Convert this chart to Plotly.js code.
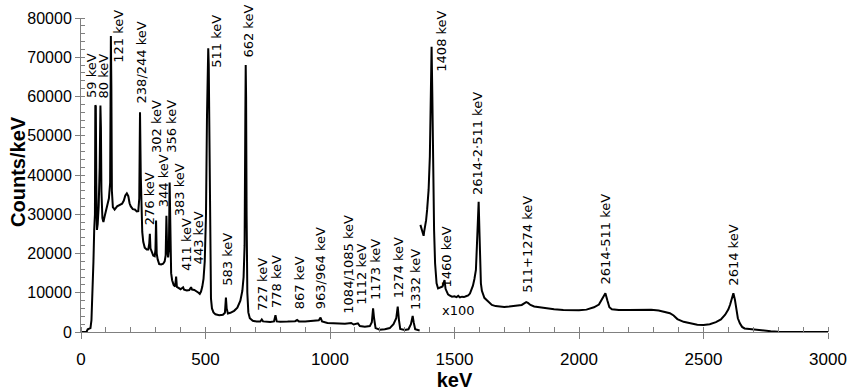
<!DOCTYPE html>
<html>
<head>
<meta charset="utf-8">
<script src="https://cdn.plot.ly/plotly-3.0.1.min.js"></script>
<style>html,body{margin:0;padding:0;background:#fff;}#chart{width:856px;height:391px;}</style>
</head>
<body>
<div id="chart"></div>
<script>
// Main spectrum (0 - ~1360 keV)
const energyLow = [0,22,27,38,42,46,50,53,56,57.5,59.5,61.5,64,67,71,75,78,80,82,86,90,95,101,107,112,117,120,122,124,128,135,145,155,165,172,178,184,190,195,200,208,216,224,230,234,237,240,243,246,250,256,264,270,274,276.5,279,284,290,296,299,301.5,304,308,314,322,330,336,340,343,346,350,353,356,359,362,366,372,378,382,385,392,400,410,414,425,435,442,446,455,465,472,477,482,487,492,497,502,506,509,511,513,516,519,522,526,532,540,555,570,578,582,585,590,600,615,628,640,648,653,657,660,661.5,663,665,668,672,678,690,705,720,726,731,745,760,775,781,786,800,830,860,868,875,900,940,955,962,968,990,1020,1060,1085,1095,1112,1120,1140,1160,1168,1173,1177,1183,1200,1220,1240,1255,1266,1272,1277,1282,1300,1315,1325,1332,1336,1342,1360];
const countsLow = [0,0,700,1000,3000,9000,18000,26000,30000,57800,57500,38000,26000,27500,32000,42000,57700,52000,36000,29000,28000,29500,31000,32500,34000,38000,75400,62000,36000,31800,31200,32000,32300,32700,33500,34800,35300,34600,32800,32000,31300,31200,30700,30800,34000,56000,40000,30000,25500,23000,21500,21000,21000,22500,25000,21300,20300,19500,19300,21000,28400,20000,18500,17300,17200,17400,18000,19500,29600,21000,19000,21000,38100,24000,15000,13200,12000,11600,14100,11500,11200,10900,11400,10800,10600,10700,11400,10800,10700,10400,10000,9700,10300,11500,13500,18000,30000,55000,70000,72300,68000,40000,15000,8500,6000,5000,4500,4300,4400,4900,8800,6000,4700,4900,5400,6200,8000,10500,14000,22000,55000,68000,60000,30000,10000,5000,3500,2850,2650,2650,3200,2700,2550,2550,2700,4300,2700,2600,2650,2750,3050,2700,2700,2800,3000,3650,2700,2300,2200,2100,2300,1900,2200,1500,1350,1500,2500,6000,3500,1000,600,700,1000,2000,3500,6450,3000,800,500,700,2000,4100,2500,700,400];

// High-energy part, shown x100 (~1360 - 3000 keV)
const energyHigh = [1363,1367,1372,1376,1378,1382,1386,1390,1396,1401,1405,1408,1411,1414,1418,1422,1428,1434,1440,1446,1452,1456,1460,1464,1468,1474,1480,1490,1500,1508,1515,1522,1530,1538,1546,1555,1562,1568,1574,1580,1586,1590,1593,1597,1600,1603,1606,1610,1614,1620,1630,1640,1650,1665,1680,1700,1720,1740,1760,1770,1780,1788,1795,1805,1820,1840,1870,1900,1937,1970,2000,2030,2060,2080,2095,2106,2114,2122,2132,2160,2200,2250,2290,2320,2345,2365,2380,2395,2420,2450,2475,2500,2525,2550,2570,2587,2600,2607,2614,2620,2626,2631,2638,2646,2655,2665,2690,2710,2740,2770,2800,2850,3000];
const countsHigh = [27300,26500,25800,24500,25500,26800,28500,31100,36200,44700,60000,72700,60000,43000,26000,17500,12400,11100,11300,11500,11600,12500,13250,11000,10300,9600,9300,9000,9100,8900,9200,8800,9000,8900,9100,9300,9800,10700,11800,13500,15800,22000,27000,33200,26000,14000,12400,10500,9800,8700,8100,7600,6900,6600,6450,6400,6500,6600,6700,6900,7300,7600,7400,6900,6500,6300,6050,5800,5600,5500,5550,5700,6300,7000,8500,9900,8000,6300,5800,5600,5600,5700,5650,5500,5100,4800,4200,3300,2600,2100,1850,1800,2000,2500,3200,4400,5800,7000,8600,9860,8300,6000,3500,2200,1300,900,700,600,350,200,80,30,0];

// Peak labels
const labelText = ["59 keV","80 keV","121 keV","238/244 keV","276 keV","302 keV","344 keV","356 keV","383 keV","411 keV","443 keV","511 keV","583 keV","662 keV","727 keV","778 keV","867 keV","963/964 keV","1084/1085 keV","1112 keV","1173 keV","1274 keV","1332 keV","1408 keV","1460 keV","2614-2·511 keV","511+1274 keV","2614-511 keV","2614 keV"];
const labelE = [42,92,149,243,276,303,332,363,396,423,470,544,587,671,731,785,876,962,1073,1127,1180,1276,1341,1450,1466,1595,1792,2108,2622];
const labelC = [59100,59100,68000,57600,26750,45100,31300,45100,29000,15000,16600,66800,11200,69300,4760,5600,5170,5170,4080,6450,7720,8150,5170,65700,10700,34300,9430,11700,11400];
const scaleNote = "x100";
const scaleNoteE = 1518, scaleNoteC = 5430;

const xTitle = "keV";
const yTitle = "Counts/keV";
const xTicks = [0,500,1000,1500,2000,2500,3000];
const yTicks = [0,10000,20000,30000,40000,50000,60000,70000,80000];

const lineStyle = {color:'#000', width:2};
const traces = [
  {x: energyLow, y: countsLow, type:'scatter', mode:'lines', line: lineStyle, hoverinfo:'skip'},
  {x: energyHigh, y: countsHigh, type:'scatter', mode:'lines', line: lineStyle, hoverinfo:'skip'}
];

const labelFont = {family:'DejaVu Sans', size:13, color:'#000'};
const annotations = labelText.map((t,i)=>({
  x: labelE[i], y: labelC[i], xref:'x', yref:'y', text: t, textangle: -90,
  showarrow:false, xanchor:'center', yanchor:'bottom', font: labelFont
}));
annotations.push({x: scaleNoteE, y: scaleNoteC, xref:'x', yref:'y', text: scaleNote,
  showarrow:false, xanchor:'center', yanchor:'middle', font: labelFont});
// y-axis title placed as a rotated annotation
annotations.push({x: -0.0843, y: 0.51, xref:'paper', yref:'paper', text: yTitle, textangle:-90,
  showarrow:false, xanchor:'center', yanchor:'middle',
  font:{family:'Liberation Sans, Arial', size:20, color:'#000', weight:'bold'}});

const layout = {
  width:856, height:391,
  margin:{l:81, r:28, t:18, b:59},
  paper_bgcolor:'#fff', plot_bgcolor:'#fff',
  showlegend:false,
  xaxis:{
    range:[0,3000], tickvals:xTicks, ticktext:xTicks.map(String),
    showgrid:false, zeroline:false, showline:true, linecolor:'#808080', linewidth:1,
    ticks:'outside', ticklen:6, tickcolor:'#808080', tickwidth:1,
    minor:{dtick:100, ticks:'inside', ticklen:5, tickcolor:'#808080', showgrid:false},
    tickfont:{family:'Liberation Sans, Arial', size:17, color:'#000'},
    ticklabelstandoff:6,
    title:{text:xTitle, font:{family:'Liberation Sans, Arial', size:20, color:'#000', weight:'bold'}, standoff:6}
  },
  yaxis:{
    range:[0,80000], tickvals:yTicks, ticktext:yTicks.map(String),
    showgrid:false, zeroline:false, showline:true, linecolor:'#808080', linewidth:1,
    ticks:'outside', ticklen:5, tickcolor:'#808080', tickwidth:1,
    minor:{dtick:2000, ticks:'inside', ticklen:4, tickcolor:'#808080', showgrid:false},
    tickfont:{family:'Liberation Sans, Arial', size:16, color:'#000'}
  },
  annotations: annotations
};

Plotly.newPlot('chart', traces, layout, {staticPlot:true, displayModeBar:false});
</script>
</body>
</html>
